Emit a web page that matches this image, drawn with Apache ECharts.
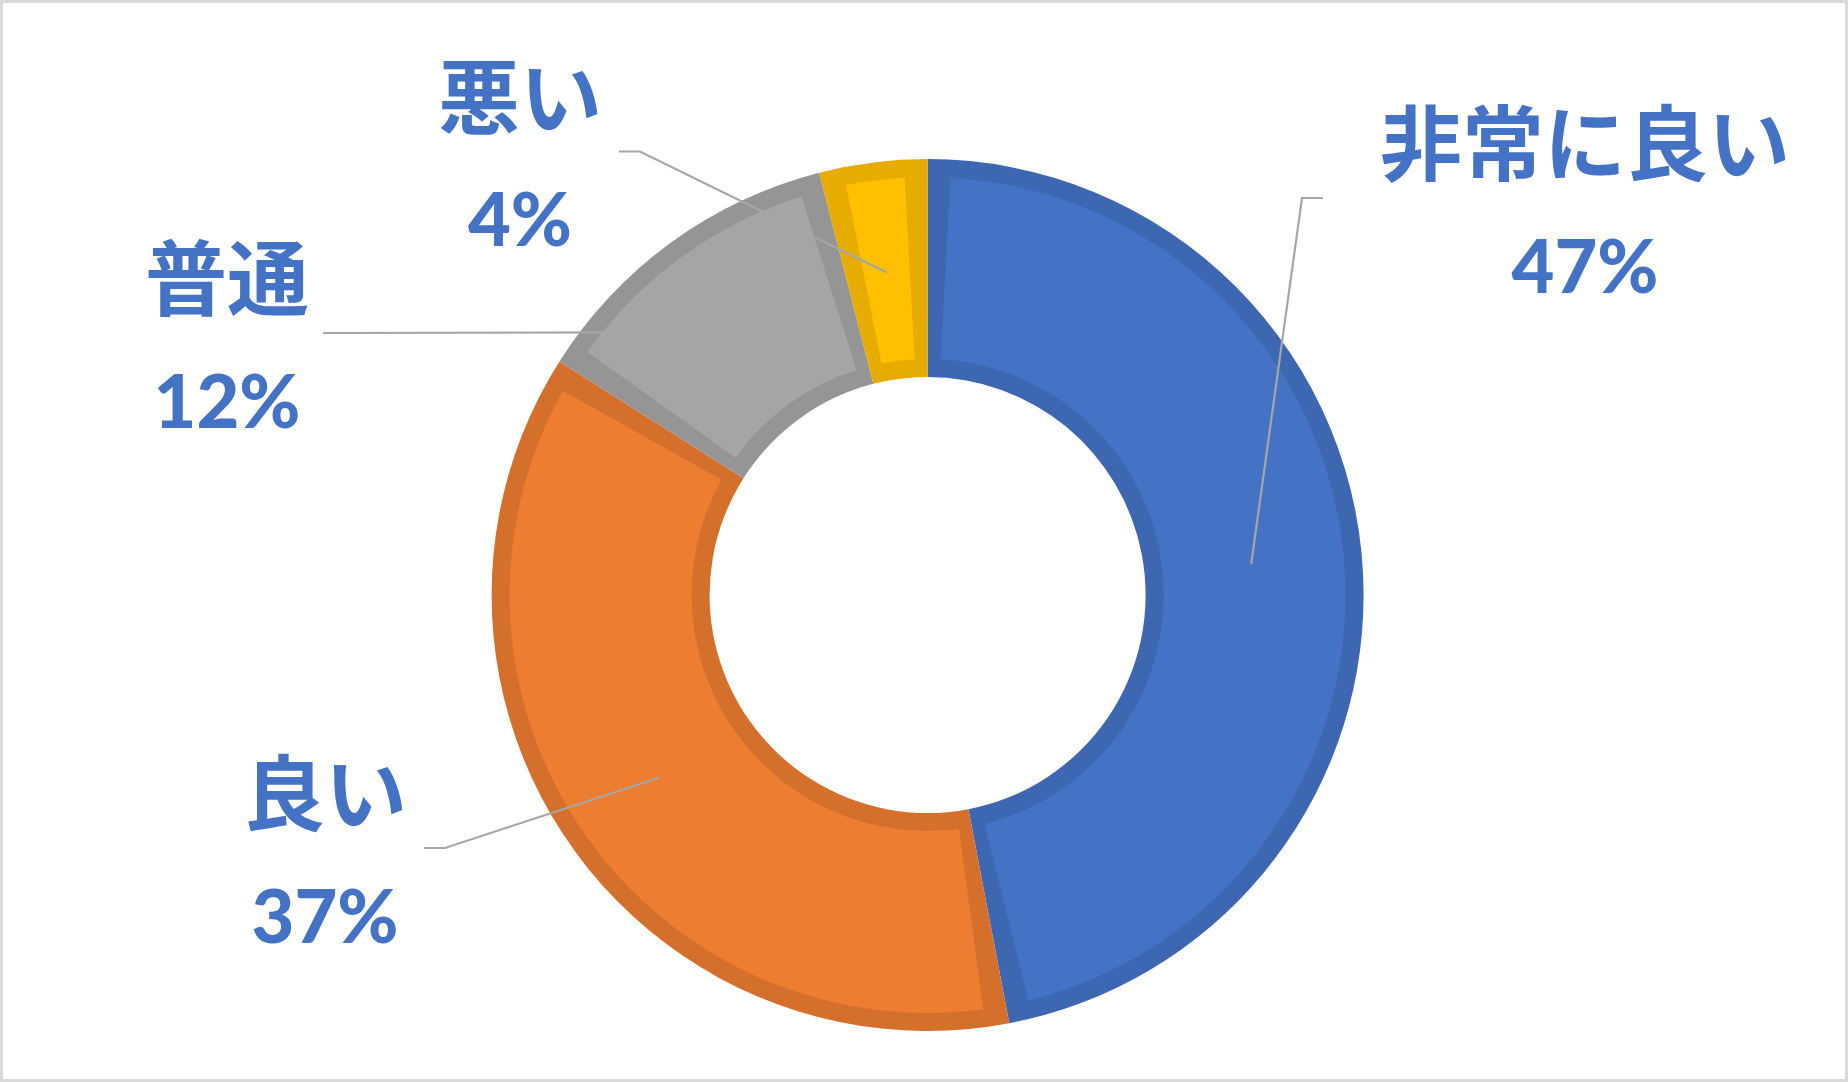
<!DOCTYPE html>
<html>
<head>
<meta charset="utf-8">
<script src="https://cdn.jsdelivr.net/npm/echarts@6/dist/echarts.min.js"></script>
<style>
html,body{margin:0;padding:0;background:#ffffff;}
#chart{position:absolute;left:0;top:0;width:1848px;height:1082px;}
#frame{position:absolute;left:0;top:0;width:1848px;height:1082px;border:3px solid #D9D9D9;box-sizing:border-box;pointer-events:none;}
</style>
</head>
<body>
<div id="chart"></div>
<div id="frame"></div>
<script>
// ---- data ----
const categories = ['非常に良い', '良い', '普通', '悪い'];
const values = [47, 37, 12, 4];

// ---- styles / layout (kept apart from the data) ----
const fillColors = ['#4472C4', '#ED7D31', '#A5A5A5', '#FFC000'];
const edgeColors = ['#3D67B0', '#D5702C', '#959595', '#E6AD00'];
const labelPos = [[1585, 198], [325, 848], [227, 333], [520, 151.5]];
const labelPad = [57, 17, 14, 17];
const CENTER = [927.6, 595];
const FONT = '"Noto Sans CJK JP", "Noto Sans", sans-serif';
const NUM_FONT = 'Lato, "Noto Sans CJK JP", sans-serif';
const TEXT_COLOR = '#4472C4';

function buildData(colors, withLabel) {
  return categories.map(function (name, i) {
    const item = { name: name, value: values[i], itemStyle: { color: colors ? colors[i] : 'rgba(0,0,0,0)' } };
    if (withLabel) {
      item.label = { padding: [18, labelPad[i], 0, labelPad[i]] };
    }
    return item;
  });
}

const chart = echarts.init(document.getElementById('chart'), null, { renderer: 'canvas' });
chart.setOption({
  animation: false,
  backgroundColor: '#ffffff',
  series: [
    {
      type: 'pie',
      name: 'edge',
      z: 1,
      center: CENTER,
      radius: [218, 436],
      startAngle: 90,
      clockwise: true,
      silent: true,
      avoidLabelOverlap: false,
      label: { show: false },
      labelLine: { show: false },
      emphasis: { disabled: true },
      data: buildData(edgeColors, false)
    },
    {
      type: 'pie',
      name: 'fill',
      z: 2,
      center: CENTER,
      radius: [236, 418],
      startAngle: 90,
      clockwise: true,
      padAngle: 6.3,
      silent: true,
      avoidLabelOverlap: false,
      label: { show: false },
      labelLine: { show: false },
      emphasis: { disabled: true },
      data: buildData(fillColors, false)
    },
    {
      type: 'pie',
      name: 'labels',
      z: 10,
      center: CENTER,
      radius: [0, 325],
      startAngle: 90,
      clockwise: true,
      silent: true,
      avoidLabelOverlap: false,
      emphasis: { disabled: true },
      itemStyle: { color: 'rgba(0,0,0,0)', borderWidth: 0 },
      label: {
        show: true,
        position: 'outside',
        color: TEXT_COLOR,
        backgroundColor: 'rgba(255,255,255,0)',
        formatter: function (p) {
          return '{n|' + p.name + '}\n{p|' + Math.round(p.percent) + '%}';
        },
        rich: {
          n: { fontSize: 82, fontWeight: 'bold', fontFamily: FONT, color: TEXT_COLOR, lineHeight: 124, align: 'center' },
          p: { fontSize: 74, fontWeight: 900, fontFamily: NUM_FONT, color: TEXT_COLOR, lineHeight: 128, align: 'center' }
        }
      },
      labelLine: {
        show: true,
        length: 10,
        length2: 21,
        lineStyle: { color: '#A6A6A6', width: 2.2 }
      },
      labelLayout: function (params) {
        const pos = labelPos[params.dataIndex];
        return { x: pos[0], y: pos[1], align: 'center', verticalAlign: 'middle' };
      },
      data: buildData(null, true)
    }
  ]
});
</script>
</body>
</html>
